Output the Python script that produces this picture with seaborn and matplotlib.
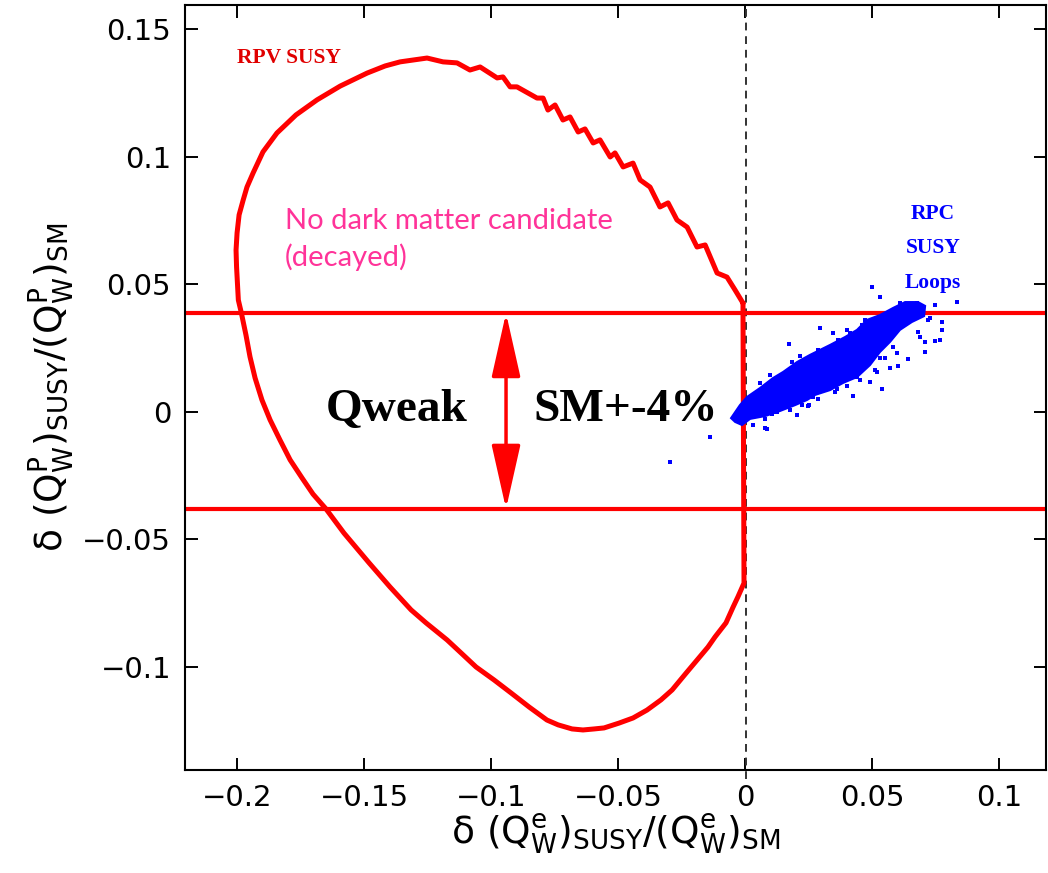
import numpy as np
import pandas as pd
import matplotlib
matplotlib.use("Agg")
import matplotlib.pyplot as plt
import seaborn as sns

# ---------------- data ----------------
# RPV SUSY allowed-region contour (closed path)
rpv_x = [-0.0008, -0.0039, -0.0071, -0.0110, -0.0157, -0.0189, -0.0228, -0.0268, -0.0303, -0.0335,
         -0.0374, -0.0413, -0.0441, -0.0480, -0.0512, -0.0531, -0.0571, -0.0598, -0.0630, -0.0657,
         -0.0689, -0.0717, -0.0748, -0.0776, -0.0795, -0.0819, -0.0898, -0.0925, -0.0953, -0.0976,
         -0.1043, -0.1083, -0.1134, -0.1189, -0.1252, -0.1358, -0.1417, -0.1488, -0.1594, -0.1685,
         -0.1768, -0.1843, -0.1898, -0.1937, -0.1961, -0.1976, -0.1992, -0.2000, -0.2004, -0.2002,
         -0.1995, -0.1983, -0.1965, -0.1949, -0.1929, -0.1902, -0.1870, -0.1831, -0.1791, -0.1744,
         -0.1701, -0.1650, -0.1579, -0.1480, -0.1398, -0.1315, -0.1256, -0.1173, -0.1118, -0.1059,
         -0.0988, -0.0921, -0.0850, -0.0780, -0.0736, -0.0681, -0.0638, -0.0594, -0.0555, -0.0496,
         -0.0441, -0.0386, -0.0331, -0.0287, -0.0232, -0.0189, -0.0146, -0.0118, -0.0075, -0.0047,
         -0.0028, -0.0004, -0.0008, -0.0008]
rpv_y = [0.0427, 0.0478, 0.0529, 0.0545, 0.0655, 0.0647, 0.0725, 0.0753, 0.0820, 0.0804,
         0.0882, 0.0910, 0.0976, 0.0961, 0.1016, 0.1000, 0.1067, 0.1055, 0.1110, 0.1098,
         0.1157, 0.1145, 0.1204, 0.1184, 0.1231, 0.1231, 0.1275, 0.1275, 0.1314, 0.1310,
         0.1353, 0.1341, 0.1369, 0.1373, 0.1388, 0.1373, 0.1357, 0.1329, 0.1278, 0.1224,
         0.1165, 0.1094, 0.1020, 0.0937, 0.0882, 0.0831, 0.0773, 0.0702, 0.0635, 0.0569,
         0.0439, 0.0388, 0.0302, 0.0216, 0.0133, 0.0047, -0.0031, -0.0110, -0.0188, -0.0259,
         -0.0322, -0.0380, -0.0475, -0.0592, -0.0686, -0.0776, -0.0827, -0.0894, -0.0945, -0.1000,
         -0.1051, -0.1102, -0.1157, -0.1208, -0.1227, -0.1243, -0.1247, -0.1243, -0.1239, -0.1220,
         -0.1200, -0.1169, -0.1129, -0.1090, -0.1024, -0.0973, -0.0922, -0.0882, -0.0827, -0.0765,
         -0.0725, -0.0671, 0.0388, 0.0427]

# Qweak band (SM +- 4%)
band_upper = 0.0388
band_lower = -0.0380
arrow_x = -0.0941

# RPC SUSY loops: dense core outline
core_x = [-0.0055, -0.0020, 0.0008, 0.0059, 0.0110, 0.0150, 0.0205, 0.0256, 0.0335, 0.0394,
          0.0441, 0.0480, 0.0531, 0.0583, 0.0630, 0.0681, 0.0709, 0.0705, 0.0657, 0.0610,
          0.0571, 0.0531, 0.0492, 0.0441, 0.0386, 0.0335, 0.0276, 0.0244, 0.0197, 0.0138,
          0.0079, 0.0020, -0.0012, -0.0039]
core_y = [-0.0024, 0.0027, 0.0059, 0.0094, 0.0133, 0.0157, 0.0196, 0.0224, 0.0263, 0.0294,
          0.0322, 0.0361, 0.0380, 0.0408, 0.0431, 0.0431, 0.0416, 0.0376, 0.0353, 0.0322,
          0.0275, 0.0235, 0.0184, 0.0137, 0.0114, 0.0086, 0.0067, 0.0047, 0.0027, 0.0004,
          -0.0016, -0.0027, -0.0051, -0.0039]

# RPC SUSY loops: scattered points
loop_x = [0.0500, 0.0531, 0.0748, 0.0835, 0.0728, 0.0776, 0.0776, 0.0681, 0.0709, 0.0748,
          0.0583, 0.0598, 0.0709, 0.0642, 0.0531, 0.0602, 0.0571, 0.0520, 0.0492, 0.0441,
          0.0539, 0.0425, 0.0362, 0.0268, 0.0248, 0.0205, 0.0118, 0.0079, 0.0031, -0.0138,
          -0.0295, 0.0173, 0.0295, 0.0346, 0.0402, 0.0472, 0.0618, 0.0669, 0.0610, 0.0677,
          0.0720, 0.0689, 0.0768, 0.0087, 0.0079, 0.0252, 0.0126,
          0.0059, 0.0098, 0.0185, 0.0217, 0.0287, 0.0366, 0.0413, 0.0461,
          0.0106, 0.0177, 0.0224, 0.0287, 0.0354, 0.0402, 0.0453, 0.0512, 0.0551]
loop_y = [0.0490, 0.0451, 0.0420, 0.0431, 0.0369, 0.0353, 0.0322, 0.0314, 0.0275, 0.0278,
          0.0255, 0.0231, 0.0235, 0.0208, 0.0212, 0.0180, 0.0173, 0.0157, 0.0118, 0.0137,
          0.0090, 0.0063, 0.0090, 0.0059, 0.0024, -0.0012, 0.0000, -0.0063, -0.0051, -0.0098,
          -0.0196, 0.0267, 0.0329, 0.0310, 0.0322, 0.0361, 0.0420, 0.0424, 0.0427, 0.0427,
          0.0361, 0.0294, 0.0282, -0.0067, -0.0027, 0.0027, 0.0000,
          0.0114, 0.0145, 0.0196, 0.0220, 0.0243, 0.0282, 0.0310, 0.0341,
          -0.0008, 0.0008, 0.0027, 0.0051, 0.0078, 0.0102, 0.0125, 0.0165, 0.0212]

x_ticks = [-0.2, -0.15, -0.1, -0.05, 0, 0.05, 0.1]
x_tick_labels = ["\u22120.2", "\u22120.15", "\u22120.1", "\u22120.05", "0", "0.05", "0.1"]
y_ticks = [-0.1, -0.05, 0, 0.05, 0.1, 0.15]
y_tick_labels = ["\u22120.1", "\u22120.05", "0", "0.05", "0.1", "0.15"]

# ---------------- style ----------------
sns.set_theme(style="ticks")
plt.rcParams["font.family"] = ["DejaVu Sans"]
plt.rcParams["mathtext.fontset"] = "dejavusans"

fig = plt.figure(figsize=(10.48, 8.73), dpi=100)
ax = fig.add_axes([185 / 1048, 1 - 770 / 873, (1046 - 185) / 1048, 765 / 873])

RED = "#ff0000"
BLUE = "#0000ff"

# band lines
ax.axhline(band_upper, color=RED, lw=3, zorder=2)
ax.axhline(band_lower, color=RED, lw=3, zorder=2)

# dashed zero line
ax.axvline(0.0003, color="#333333", lw=1.4, ls=(0, (4, 3)), zorder=1,
           ymin=-0.012, ymax=1, clip_on=False)

# RPV contour
rpv_df = pd.DataFrame({"x": rpv_x, "y": rpv_y})
sns.lineplot(data=rpv_df, x="x", y="y", sort=False, estimator=None, color=RED,
             lw=3.6, ax=ax, zorder=3)

# RPC loops
ax.fill(core_x, core_y, color=BLUE, lw=1.5, ec=BLUE, zorder=4)
loop_df = pd.DataFrame({"x": loop_x, "y": loop_y})
sns.scatterplot(data=loop_df, x="x", y="y", marker="s", s=11, color=BLUE,
                edgecolor="none", ax=ax, zorder=4)

# double arrow
ax.annotate("", xy=(arrow_x, band_upper), xytext=(arrow_x, band_lower),
            arrowprops=dict(arrowstyle="<|-|>,head_length=2.0,head_width=0.45",
                            mutation_scale=20, lw=2.5, color=RED,
                            shrinkA=0, shrinkB=0), zorder=5)

# texts
serif = ["Liberation Serif", "DejaVu Serif"]
ax.text(-0.1650, -0.0035, "Qweak", family=serif, fontweight="bold", fontsize=34,
        ha="left", va="baseline", color="black")
ax.text(-0.0835, -0.0035, "SM+-4%", family=serif, fontweight="bold", fontsize=34,
        ha="left", va="baseline", color="black")
ax.text(-0.2, 0.1388, "RPV SUSY", family=serif, fontweight="bold", fontsize=15.5,
        ha="left", va="center", color="#e00000")
ax.text(0.0740, 0.0642, "RPC\nSUSY\nLoops", family=serif, fontweight="bold", fontsize=15.5,
        ha="center", va="center", color=BLUE, linespacing=1.95)
ax.text(-0.1811, 0.0800, "No dark matter candidate\n(decayed)", family=["Lato", "DejaVu Sans"],
        fontsize=21, ha="left", va="top", color="#ff3399", linespacing=1.4)

# axes
ax.set_xlim(-0.2205, 0.1185)
ax.set_ylim(-0.1404, 0.1596)
ax.set_xticks(x_ticks)
ax.set_xticklabels(x_tick_labels)
ax.set_yticks(y_ticks)
ax.set_yticklabels(y_tick_labels)
ax.tick_params(direction="in", length=9, width=1.4, top=True, right=True,
               labelsize=21, colors="black", pad=10)
for sp in ax.spines.values():
    sp.set_visible(True)
    sp.set_linewidth(1.5)
    sp.set_color("black")

ax.set_xlabel(r"$\mathrm{\delta\ (Q^{e}_{W})_{SUSY}/(Q^{e}_{W})_{SM}}$", fontsize=27,
              labelpad=0, color="black")
ax.set_ylabel(r"$\mathrm{\delta\ (Q^{P}_{W})_{SUSY}/(Q^{P}_{W})_{SM}}$", fontsize=27,
              labelpad=4, color="black")

fig.savefig("out.png", dpi=100)
